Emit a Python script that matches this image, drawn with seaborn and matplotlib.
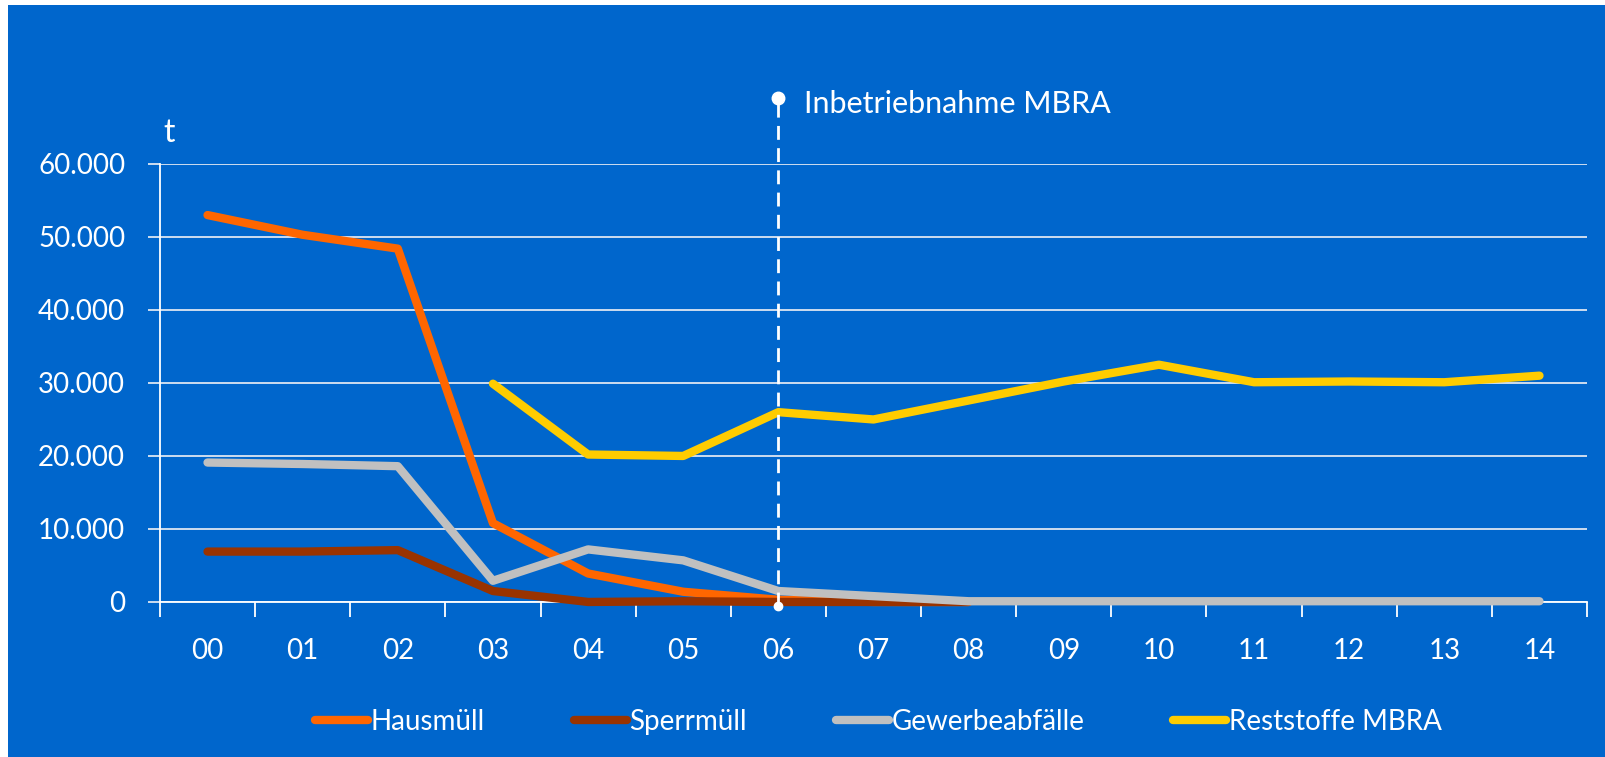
import numpy as np
import pandas as pd
import matplotlib
matplotlib.use('Agg')
import matplotlib.pyplot as plt
import matplotlib.ticker as mticker
import seaborn as sns

years = ['00', '01', '02', '03', '04', '05', '06', '07', '08', '09', '10', '11', '12', '13', '14']
hausmuell = [53000, 50300, 48400, 10800, 3900, 1400, 300, 0, 0, np.nan, np.nan, np.nan, np.nan, np.nan, np.nan]
sperrmuell = [6900, 6900, 7100, 1500, 0, 100, 0, 0, 0, np.nan, np.nan, np.nan, np.nan, np.nan, np.nan]
gewerbe = [19100, 18900, 18600, 2900, 7200, 5700, 1500, 800, 100, 100, 100, 100, 100, 100, 100]
reststoffe = [np.nan, np.nan, np.nan, 29900, 20200, 20000, 26000, 25000, 27600, 30200, 32500, 30100, 30200, 30100, 31000]

series = {'Hausmüll': hausmuell, 'Sperrmüll': sperrmuell,
          'Gewerbeabfälle': gewerbe, 'Reststoffe MBRA': reststoffe}
colors = {'Hausmüll': '#FF6600', 'Sperrmüll': '#993300',
          'Gewerbeabfälle': '#C0C0C0', 'Reststoffe MBRA': '#FFCC00'}

rows = []
for name, vals in series.items():
    for i, v in enumerate(vals):
        rows.append({'x': i, 'value': v, 'series': name})
df = pd.DataFrame(rows).dropna()

bg = '#0066CC'
sns.set_style('white')
plt.rcParams['font.family'] = ['Lato', 'DejaVu Sans']

fig = plt.figure(figsize=(16.06, 7.57), dpi=100, facecolor=bg)
# thin white margin at left and top, as in the source image
fig.patches.append(plt.Rectangle((0, 0), 8 / 1606, 1, transform=fig.transFigure,
                                 facecolor='white', edgecolor='none'))
fig.patches.append(plt.Rectangle((0, 1 - 5 / 757), 1, 5 / 757, transform=fig.transFigure,
                                 facecolor='white', edgecolor='none'))
ax = fig.add_axes([0.0996, 0.2048, 0.8886, 0.5786])
ax.set_facecolor('none')

sns.lineplot(data=df, x='x', y='value', hue='series', palette=colors,
             hue_order=list(series.keys()), linewidth=6, ax=ax,
             legend=False, solid_capstyle='round', zorder=3, clip_on=False)

ax.set_xlim(-0.5, 14.5)
ax.set_ylim(0, 60000)

# grid and spines
for s in ['top', 'right']:
    ax.spines[s].set_visible(False)
for s in ['left', 'bottom']:
    ax.spines[s].set_color('white')
    ax.spines[s].set_linewidth(1.3)
ax.yaxis.grid(True, color='#DDE6F2', linewidth=1.3)
ax.set_axisbelow(True)

ax.set_yticks(range(0, 60001, 10000))
ax.yaxis.set_major_formatter(mticker.FuncFormatter(lambda v, p: f'{int(v):,}'.replace(',', '.')))
ax.tick_params(axis='y', left=True, colors='#DDE6F2', labelcolor='white', labelsize=20,
               length=9, width=1.3, pad=16, direction='out')

ax.set_xticks(range(len(years)))
ax.set_xticklabels(years)
ax.set_xticks(np.arange(-0.5, 15, 1), minor=True)
ax.tick_params(axis='x', which='major', bottom=True, length=0, labelcolor='white', labelsize=20, pad=26)
ax.tick_params(axis='x', which='minor', bottom=True, length=11, width=1.3, color='white', direction='out')
ax.set_xlabel('')
ax.set_ylabel('')

# unit label
ax.text(-0.46, 64300, 't', color='white', fontsize=23, ha='left', va='center')

# start of MBRA marker
ax.plot([6, 6], [-600, 69000], color='white', linestyle=(0, (5, 3)), linewidth=2,
        clip_on=False, zorder=4)
ax.plot([6], [69000], marker='o', markersize=9, color='white', clip_on=False, zorder=5)
ax.plot([6], [-600], marker='o', markersize=6, color='white', clip_on=False, zorder=5)
ax.text(6.27, 68200, 'Inbetriebnahme MBRA', color='white', fontsize=22,
        ha='left', va='center')

handles = [plt.Line2D([], [], color=colors[n], linewidth=6, solid_capstyle='round') for n in series]
leg = fig.legend(handles, list(series.keys()), loc='center', bbox_to_anchor=(0.547, 0.046),
                 ncol=4, frameon=False, fontsize=20, handlelength=1.9, handletextpad=0.1,
                 columnspacing=3.2)
for t in leg.get_texts():
    t.set_color('white')

fig.savefig('out.png', dpi=100, facecolor=fig.get_facecolor())
